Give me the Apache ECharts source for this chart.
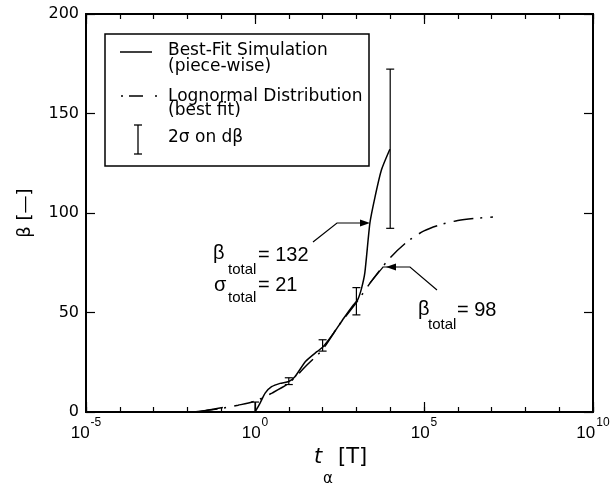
<!DOCTYPE html>
<html lang="en">
<head>
<meta charset="UTF-8">
<title>beta vs t_alpha</title>
<script src="https://cdn.jsdelivr.net/npm/echarts@6/dist/echarts.min.js"></script>
<style>
  html, body { margin: 0; padding: 0; background: #fff; }
  #chart { width: 614px; height: 486px; }
</style>
</head>
<body>
<div id="chart"></div>
<script>
// x values are log10(t_alpha), y values are beta
const simLogT = [-1.8, -1.5, -1.2, -0.95, null, 0.0, 0.15, 0.3, 0.49, 0.74, 1.0, 1.18, 1.5, 1.83, 2.0, 2.32, 2.62, 2.91, 3.04, 3.15, 3.25, 3.4, 3.55, 3.74, 3.99];
const simBeta = [0, 0.6, 1.5, 2.3, null, 0, 4.5, 9.5, 12.7, 14.4, 15.3, 17.7, 25.5, 30.3, 32.5, 39.5, 47, 53.8, 56.5, 62, 70, 95, 108, 121.6, 132];

const lnLogT = [-1.7, -1.5, -1, -0.5, 0, 0.5, 1, 1.5, 2, 2.5, 3, 3.5, 4, 4.5, 5, 5.5, 6, 6.5, 7.04];
const lnBeta = [0, 0.6, 1.8, 3.4, 5.5, 9.5, 14.5, 23, 31.5, 44, 55, 67, 77.5, 85.5, 91, 94.2, 96.2, 97.3, 98];

const errLogT = [0, 1, 2, 3, 4];
const errLow = [0, 13.8, 30.6, 48.8, 92.3];
const errHigh = [5, 17.2, 36.3, 62.5, 172.3];

const yTicks = [0, 50, 100, 150, 200];
const xLabelDecades = [-5, 0, 5, 10];

const SANS = '"Liberation Sans", Arial, Helvetica, sans-serif';
const WIDE = '"DejaVu Sans", sans-serif';

const chart = echarts.init(document.getElementById('chart'));

function pairs(xs, ys) {
    return xs.map((x, i) => (x === null ? [null, null] : [x, ys[i]]));
}

// text placed by its baseline
function tb(x, base, s, size, family, extra) {
    return {
        type: 'text', x: x, y: base - 0.35 * size, silent: true,
        style: Object.assign({
            text: s, fontSize: size, fontFamily: family || SANS, fill: '#000',
            align: 'left', verticalAlign: 'middle'
        }, extra || {})
    };
}
function seg(points, w, dash) {
    return {
        type: 'polyline', silent: true, shape: { points: points },
        style: { stroke: '#000', lineWidth: w || 1.2, fill: null, lineDash: dash || null }
    };
}
function head(points) {
    return { type: 'polygon', silent: true, shape: { points: points }, style: { fill: '#000' } };
}

const xBase = {
    type: 'value', min: -5, max: 10,
    splitLine: { show: false },
    axisLine: { show: true, onZero: false, lineStyle: { color: '#000', width: 2 } },
    axisLabel: { show: false }
};
const yBase = {
    type: 'value', min: yTicks[0], max: yTicks[yTicks.length - 1], interval: 50,
    splitLine: { show: false },
    axisLine: { show: true, onZero: false, lineStyle: { color: '#000', width: 2 } },
    axisTick: { inside: true, length: 9, lineStyle: { color: '#000', width: 1.2 } }
};

const option = {
    animation: false,
    backgroundColor: '#fff',
    grid: { left: 86, right: 21, top: 14, bottom: 74 },
    xAxis: [
        Object.assign({}, xBase, { position: 'bottom', interval: 1,
            axisTick: { inside: true, length: 5, lineStyle: { color: '#000', width: 1.2 } } }),
        Object.assign({}, xBase, { position: 'bottom', interval: 5,
            axisTick: { inside: true, length: 10, lineStyle: { color: '#000', width: 1.2 } },
            axisLabel: {
                show: true, margin: 2, color: '#000', fontFamily: SANS,
                formatter: v => (xLabelDecades.indexOf(v) >= 0 ? '{b|10}{s|' + v + '}' : ''),
                rich: {
                    b: { fontSize: 17, fontFamily: SANS, color: '#000', lineHeight: 28, verticalAlign: 'bottom' },
                    s: { fontSize: 12, fontFamily: SANS, color: '#000', lineHeight: 28, verticalAlign: 'top', padding: [3, 0, 0, 1] }
                }
            } }),
        Object.assign({}, xBase, { position: 'top', interval: 1,
            axisTick: { inside: true, length: 5, lineStyle: { color: '#000', width: 1.2 } } }),
        Object.assign({}, xBase, { position: 'top', interval: 5,
            axisTick: { inside: true, length: 10, lineStyle: { color: '#000', width: 1.2 } } })
    ],
    yAxis: [
        Object.assign({}, yBase, {
            position: 'left',
            name: 'β [—]', nameLocation: 'middle', nameRotate: 90, nameGap: 52,
            nameTextStyle: { fontSize: 18, fontFamily: WIDE, color: '#000' },
            axisLabel: { color: '#000', fontSize: 16, fontFamily: WIDE, margin: 7 }
        }),
        Object.assign({}, yBase, { position: 'right', axisLabel: { show: false } })
    ],
    series: [
        {
            name: 'Lognormal Distribution', type: 'line', xAxisIndex: 0, yAxisIndex: 0,
            data: pairs(lnLogT, lnBeta), showSymbol: false, smooth: 0.3,
            lineStyle: { color: '#000', width: 1.5, type: [20, 7, 2, 8] }
        },
        {
            name: 'Best-Fit Simulation', type: 'line', xAxisIndex: 0, yAxisIndex: 0,
            data: pairs(simLogT, simBeta), showSymbol: false, smooth: 0.2, connectNulls: false,
            lineStyle: { color: '#000', width: 1.5, type: 'solid' }
        },
        {
            name: '2 sigma', type: 'custom', xAxisIndex: 0, yAxisIndex: 0,
            data: errLogT.map((x, i) => [x, errLow[i], errHigh[i]]),
            encode: { x: 0, y: [1, 2] },
            renderItem: function (params, api) {
                const lo = api.coord([api.value(0), api.value(1)]);
                const hi = api.coord([api.value(0), api.value(2)]);
                const w = 4;
                const st = { stroke: '#000', lineWidth: 1.2 };
                return {
                    type: 'group', children: [
                        { type: 'line', shape: { x1: lo[0], y1: lo[1], x2: hi[0], y2: hi[1] }, style: st },
                        { type: 'line', shape: { x1: hi[0] - w, y1: hi[1], x2: hi[0] + w, y2: hi[1] }, style: st },
                        { type: 'line', shape: { x1: lo[0] - w, y1: lo[1], x2: lo[0] + w, y2: lo[1] }, style: st }
                    ]
                };
            }
        }
    ],
    graphic: [
        // legend box
        { type: 'rect', silent: true, shape: { x: 105, y: 34, width: 264, height: 132 },
          style: { fill: '#fff', stroke: '#000', lineWidth: 1.5 } },
        seg([[120, 52], [152, 52]], 1.5),
        seg([[121, 96], [158, 96]], 1.5, [2, 6, 14, 12]),
        seg([[138, 125], [138, 154]], 1.3),
        seg([[134, 125], [142, 125]], 1.3),
        seg([[134, 154], [142, 154]], 1.3),
        tb(168, 57, 'Best-Fit Simulation', 17, WIDE),
        tb(168, 73, '(piece-wise)', 17, WIDE),
        tb(168, 102.5, 'Lognormal Distribution', 17, WIDE),
        tb(168, 117, '(best fit)', 17, WIDE),
        tb(168, 144, '2σ on dβ', 17, WIDE),

        // annotations
        tb(213, 260, 'β', 20),
        tb(228, 275, 'total', 15),
        tb(258, 262, '= 132', 20),
        tb(214, 292, 'σ', 20),
        tb(228, 303, 'total', 15),
        tb(258, 292, '= 21', 20),
        tb(418, 316, 'β', 20),
        tb(428, 330, 'total', 15),
        tb(457, 317, '= 98', 20),

        seg([[313, 242], [337, 223], [362, 223]], 1.2),
        head([[370, 223], [360, 219.5], [360, 226.5]]),
        seg([[437, 290], [410, 267], [383, 267], [370, 283]], 1.2),
        head([[386, 267], [396, 263.5], [396, 270.5]]),

        // x-axis title
        tb(314, 465, 't', 21, WIDE, { fontStyle: 'italic' }),
        tb(323, 484, 'α', 15, WIDE),
        tb(338, 465, '[T]', 21, WIDE)
    ]
};

chart.setOption(option);
</script>
</body>
</html>
